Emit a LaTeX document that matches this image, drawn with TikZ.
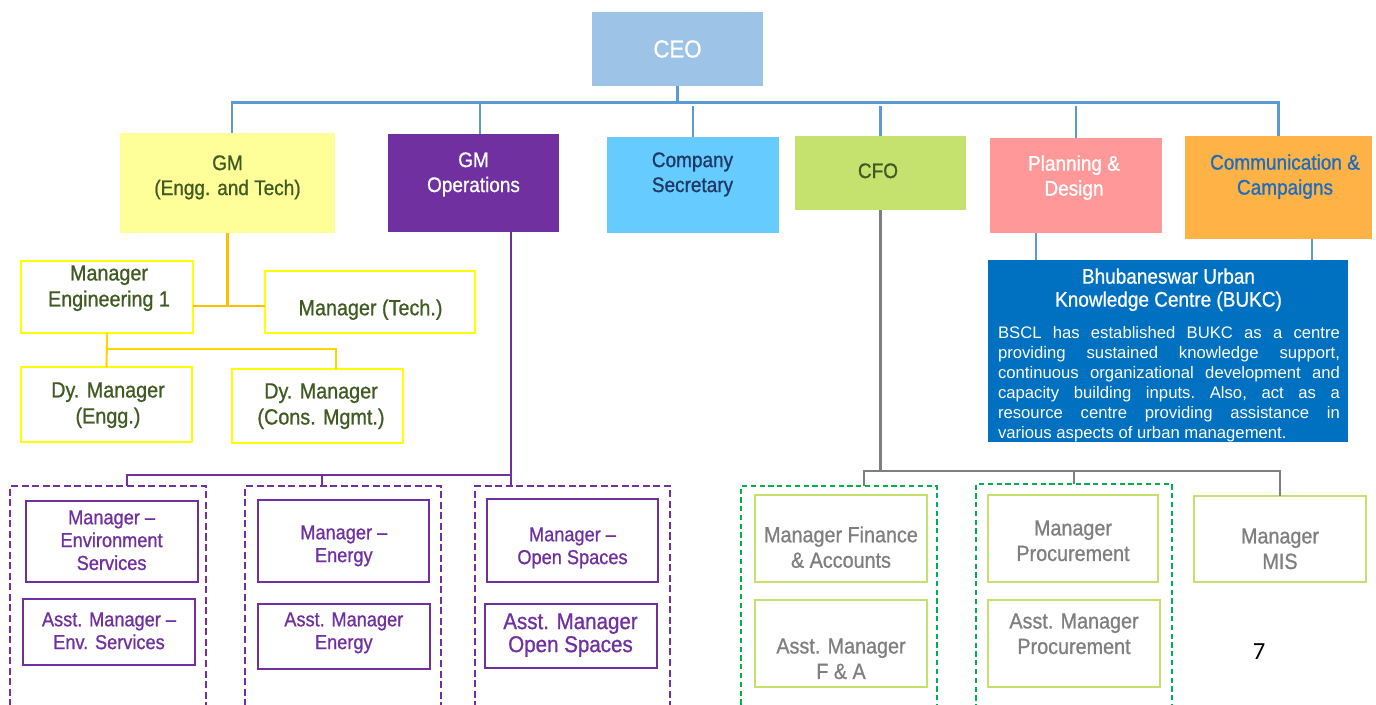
\documentclass[tikz,border=0pt]{standalone}
\usepackage{fontspec}
\setmainfont{Liberation Sans}
\newfontfamily\narrowfont[FakeStretch=0.9,FakeBold=0.9]{Liberation Sans}
\newfontfamily\pagefont{Carlito}

\newcommand{\pxu}{0.02cm}

\definecolor{ceoblue}{HTML}{9DC3E6}
\definecolor{busblue}{HTML}{5B9BD5}
\definecolor{engyellow}{HTML}{FFFF99}
\definecolor{opspurple}{HTML}{7030A0}
\definecolor{secblue}{HTML}{66CCFF}
\definecolor{cfogreen}{HTML}{C6E26E}
\definecolor{planpink}{HTML}{FF9999}
\definecolor{commorange}{HTML}{FFB347}
\definecolor{bukcblue}{HTML}{0070C0}
\definecolor{textolive}{HTML}{3F5B22}
\definecolor{secnavy}{HTML}{1F3864}
\definecolor{commtext}{HTML}{1A6DC0}
\definecolor{boxyellow}{HTML}{FFFF00}
\definecolor{engline}{HTML}{FFC000}
\definecolor{dyline}{HTML}{FFD700}
\definecolor{lightgreen}{HTML}{C5E06D}
\definecolor{dashgreen}{HTML}{00B050}
\definecolor{cfogray}{HTML}{7F7F7F}

\tikzset{
  sz/.style 2 args={minimum width=#1*\pxu, minimum height=#2*\pxu},
  orgbox/.style={rectangle, inner sep=0pt, outer sep=0pt},
  ybox/.style={orgbox, draw=boxyellow, line width=1.6pt},
  pbox/.style={orgbox, draw=opspurple, line width=1.6pt},
  gbox/.style={orgbox, draw=lightgreen, line width=1.6pt},
  pgroup/.style={orgbox, draw=opspurple, line width=1.2pt, dash pattern=on 4pt off 2pt},
  ggroup/.style={orgbox, draw=dashgreen, line width=1.2pt, dash pattern=on 3pt off 2pt},
  busline/.style={draw=busblue, line width=1.2pt},
  opsline/.style={draw=opspurple, line width=1.2pt},
  cfoline/.style={draw=cfogray, line width=1.2pt},
  lab/.style={inner sep=0pt, anchor=north, align=center, font=\narrowfont\fontsize{12}{14.2}\selectfont},
  ylab/.style={lab, text=textolive, font=\narrowfont\fontsize{12.5}{14.8}\selectfont},
  plab/.style={lab, text=opspurple, font=\narrowfont\fontsize{11.5}{13}\selectfont},
  glab/.style={lab, text=cfogray, font=\narrowfont\fontsize{12.5}{14.5}\selectfont}
}

\begin{document}
\begin{tikzpicture}[x=0.02cm, y=-0.02cm]
\useasboundingbox (0,0) rectangle (1376,704);

% top level
\node[orgbox, fill=ceoblue, sz={171}{74}, text=white, font=\narrowfont\fontsize{14}{16}\selectfont] (ceo) at (677.5,49) {CEO};

\node[orgbox, fill=engyellow, sz={215}{100}] (gmeng) at (227.5,183) {};
\node[orgbox, fill=opspurple, sz={171}{98}] (gmops) at (473.5,183) {};
\node[orgbox, fill=secblue, sz={172}{96}] (cosec) at (693,185) {};
\node[orgbox, fill=cfogreen, sz={171}{74}] (cfo) at (880.5,173) {};
\node[orgbox, fill=planpink, sz={172}{95}] (plan) at (1076,185.5) {};
\node[orgbox, fill=commorange, sz={187}{103}] (comm) at (1278.5,187.5) {};

\node[lab, text=textolive] (gmeng-t) at (227.5,155) {GM\\(Engg. and Tech)};
\node[lab, text=white] (gmops-t) at (473.5,152) {GM\\Operations};
\node[lab, text=secnavy] (cosec-t) at (692.5,152) {Company\\Secretary};
\node[lab, text=textolive] (cfo-t) at (878,163) {CFO};
\node[lab, text=white] (plan-t) at (1074,155) {Planning \&\\Design};
\node[lab, text=commtext] (comm-t) at (1285,154) {Communication \&\\Campaigns};

\coordinate (bus) at (677,102.5);
\coordinate (bus2) at (677,105.5);
\coordinate (b1) at ([xshift=4.5*\pxu]gmeng.north);
\coordinate (b2) at ([xshift=6.5*\pxu]gmops.north);
\draw[busline] (b1) |- (comm.north |- bus) -- (comm.north);
\draw[busline] (ceo.south) -- (ceo.south |- bus);
\draw[busline] (b2) -- (b2 |- bus);
\foreach \n in {cosec,cfo,plan}
  \draw[busline] (\n.north) -- (\n.north |- bus2);

% engineering and tech
\node[ybox, sz={172}{72}] (meng1) at (107,297) {};
\node[ybox, sz={210}{62}] (mtech) at (370,302) {};
\node[ybox, sz={171}{75}] (dyeng) at (106.5,404.5) {};
\node[ybox, sz={171}{74}] (dycons) at (317.5,406) {};

\node[ylab] (meng1-t) at (109,265) {Manager\\Engineering 1};
\node[ylab] (mtech-t) at (370.5,299) {Manager (Tech.)};
\node[ylab] (dyeng-t) at (108,382) {Dy. Manager\\(Engg.)};
\node[ylab] (dycons-t) at (321,383) {Dy. Manager\\(Cons. Mgmt.)};

\coordinate (ej) at (227.5,306);
\draw[engline, line width=1.2pt] (gmeng.south) -- (ej);
\draw[engline, line width=1.2pt] (meng1.east |- ej) -- (mtech.west |- ej);
\coordinate (dj) at (107,349);
\coordinate (dc) at ([xshift=18.5*\pxu]dycons.north);
\draw[dyline, line width=1.2pt] (meng1.south) -- (dyeng.north);
\draw[dyline, line width=1.2pt] (dj) -| (dc);

% operations
\node[pgroup, sz={196}{238}] (pg1) at (108,605) {};
\node[pgroup, sz={196}{238}] (pg2) at (343,605) {};
\node[pgroup, sz={195}{238}] (pg3) at (572.5,605) {};

\node[pbox, sz={172}{81}] (menv) at (112,541.5) {};
\node[pbox, sz={172}{66}] (aenv) at (109,632) {};
\node[pbox, sz={171}{82}] (meng) at (343.5,541) {};
\node[pbox, sz={172}{65}] (aeng) at (344,636.5) {};
\node[pbox, sz={171}{83}] (mopen) at (572.5,540.5) {};
\node[pbox, sz={172}{64}] (aopen) at (571,636) {};

\node[plab] (menv-t) at (111.6,510) {Manager –\\Environment\\Services};
\node[plab] (aenv-t) at (109,612) {Asst. Manager –\\Env. Services};
\node[plab] (meng-t) at (343.8,525) {Manager –\\Energy};
\node[plab] (aeng-t) at (343.8,612) {Asst. Manager\\Energy};
\node[plab] (mopen-t) at (572.5,527) {Manager –\\Open Spaces};
\node[plab, font=\narrowfont\fontsize{13}{13.1}\selectfont] (aopen-t) at (570.5,613) {Asst. Manager\\Open Spaces};

\coordinate (oj) at (511,475);
\coordinate (o1) at ([xshift=19*\pxu]pg1.north);
\coordinate (o2) at ([xshift=-21*\pxu]pg2.north);
\draw[opsline] (gmops.south -| oj) -- (oj |- pg3.north);
\draw[opsline] (oj) -| (o1);
\draw[opsline] (o2) -- (o2 |- oj);

% finance
\node[ggroup, sz={196}{238}] (gg1) at (839,605) {};
\node[ggroup, sz={196}{240}] (gg2) at (1074,604) {};

\node[gbox, sz={172}{87}] (mfin) at (841,538.5) {};
\node[gbox, sz={172}{87}] (afin) at (841,643.5) {};
\node[gbox, sz={170}{87}] (mproc) at (1073,538.5) {};
\node[gbox, sz={172}{87}] (aproc) at (1074,643.5) {};
\node[gbox, sz={172}{86}] (mmis) at (1280,539) {};

\node[glab] (mfin-t) at (841,526) {Manager Finance\\\& Accounts};
\node[glab] (afin-t) at (841,638) {Asst. Manager\\F \& A};
\node[glab] (mproc-t) at (1073,520) {Manager\\Procurement};
\node[glab] (aproc-t) at (1074,613) {Asst. Manager\\Procurement};
\node[glab] (mmis-t) at (1280,528) {Manager\\MIS};

\coordinate (fj) at (880.5,471);
\coordinate (f1) at ([xshift=25*\pxu]gg1.north);
\draw[cfoline] (cfo.south) -- (fj);
\draw[cfoline] (f1) |- (fj) -| (mmis.north);
\draw[cfoline] (gg2.north) -- (gg2.north |- fj);

% knowledge centre
\node[orgbox, fill=bukcblue, sz={360}{182}] (bukc) at (1168,351) {};
\node[lab, text=white, font=\narrowfont\fontsize{12}{13.1}\selectfont] (bukc-t) at (1168.5,268) {Bhubaneswar Urban\\Knowledge Centre (BUKC)};
\node[inner sep=0pt, anchor=north, text width=342*\pxu, align=justify, text=white, font=\fontsize{9.5}{11.4}\selectfont\frenchspacing] (bukc-b) at (1169,326) {BSCL has established BUKC as a centre\linebreak providing sustained knowledge support,\linebreak continuous organizational development and\linebreak capacity building inputs. Also, act as a\linebreak resource centre providing assistance in\linebreak various aspects of urban management.};

\coordinate (p1) at ([xshift=-40*\pxu]plan.south);
\coordinate (c1) at ([xshift=33.5*\pxu]comm.south);
\draw[busline] (p1) -- (p1 |- bukc.north);
\draw[busline] (c1) -- (c1 |- bukc.north);

\node[font=\pagefont\fontsize{14}{16}\selectfont] (pageno) at (1259,651.5) {7};
\end{tikzpicture}
\end{document}
